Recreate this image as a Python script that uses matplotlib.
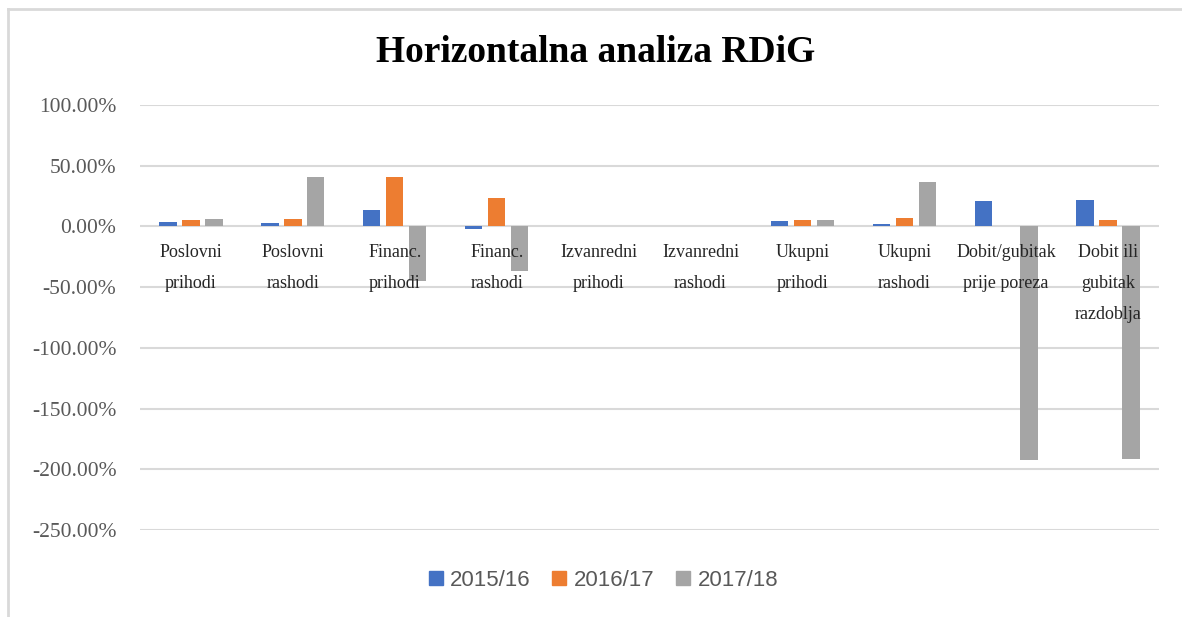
import matplotlib.pyplot as plt
import matplotlib.lines as mlines
import numpy as np
from matplotlib.ticker import FuncFormatter

# Data (percent change)
categories = ["Poslovni\nprihodi", "Poslovni\nrashodi", "Financ.\nprihodi", "Financ.\nrashodi",
              "Izvanredni\nprihodi", "Izvanredni\nrashodi", "Ukupni\nprihodi", "Ukupni\nrashodi",
              "Dobit/gubitak\nprije poreza", "Dobit ili\ngubitak\nrazdoblja"]
years = ["2015/16", "2016/17", "2017/18"]
v_2015_16 = [4.0, 2.5, 13.8, -2.0, 0.0, 0.0, 4.7, 2.0, 21.0, 21.5]
v_2016_17 = [5.0, 6.0, 40.7, 23.7, 0.0, 0.0, 5.5, 6.6, 0.0, 5.0]
v_2017_18 = [6.0, 40.7, -45.0, -37.0, 0.0, 0.0, 5.0, 37.0, -192.0, -191.5]
colors = ['#4472c4', '#ed7d31', '#a5a5a5']

fig = plt.figure(figsize=(11.82, 6.17), dpi=100)
ax = fig.add_axes([140/1182, 1-530/617, 1019/1182, 425/617])

x = np.arange(len(categories))
w = 0.17
off = 0.225
for k, (vals, c, lab) in enumerate(zip([v_2015_16, v_2016_17, v_2017_18], colors, years)):
    ax.bar(x + (k-1)*off, vals, width=w, color=c, label=lab, zorder=3)

ax.set_xlim(-0.5, len(categories)-0.5)
ax.set_ylim(-250, 100)
ax.set_yticks(np.arange(-250, 101, 50))
ax.yaxis.set_major_formatter(FuncFormatter(lambda v, p: f"{v:.2f}%"))
ax.grid(True, axis='y', color='#d9d9d9', linewidth=1.5, zorder=0)
ax.set_xticks([])
ax.tick_params(axis='y', length=0, pad=17, labelsize=15.5, labelcolor='#595959')
for t in ax.get_yticklabels():
    t.set_fontfamily('Liberation Serif')
for s in ax.spines.values():
    s.set_visible(False)

# category labels inside the plot, below the zero line
for i, lab in enumerate(categories):
    ax.annotate(lab, xy=(i, 0), xytext=(0, -18), textcoords='offset pixels',
                ha='center', va='top', fontsize=13, family='Liberation Serif',
                color='#262626', linespacing=2.05, zorder=4)

fig.suptitle("Horizontalna analiza RDiG", x=596/1182, y=1-52/617, va='center',
             fontsize=27, fontweight='bold', family='Liberation Serif')

handles = [mlines.Line2D([], [], marker='s', linestyle='none', markersize=9.5,
                         color=c) for c in colors]
fig.legend(handles, years, loc='center', bbox_to_anchor=(602/1182, 1-580/617), ncol=3,
           frameon=False, prop={'family': 'Liberation Sans', 'size': 16},
           labelcolor='#595959', handletextpad=0.2, columnspacing=0.85, handlelength=0.9)

# outer chart border
fig.add_artist(mlines.Line2D([7.5/1182, 7.5/1182], [0, 1-8.5/617], color='#d9d9d9', linewidth=2))
fig.add_artist(mlines.Line2D([7.5/1182, 1], [1-8.5/617, 1-8.5/617], color='#d9d9d9', linewidth=2))

fig.savefig("out.png", dpi=100)
